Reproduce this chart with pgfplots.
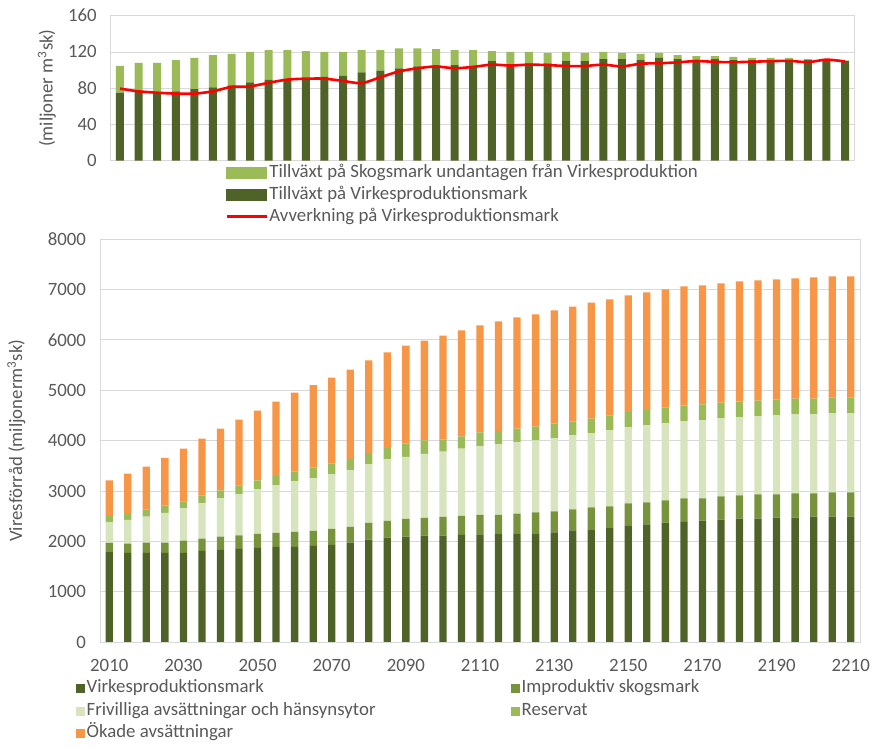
\documentclass[border=0pt]{standalone}
\usepackage{fontspec}
\setmainfont{Carlito}
\usepackage{pgfplots}
\usepackage{pgfplotstable}
\pgfplotsset{compat=1.18}
\definecolor{dkgreen}{HTML}{4F6228}
\definecolor{ltgreen}{HTML}{9BBB59}
\definecolor{midgreen}{HTML}{77933C}
\definecolor{palegreen}{HTML}{D7E4BD}
\definecolor{resgreen}{HTML}{9BBB59}
\definecolor{orng}{HTML}{F79646}
\definecolor{gridgray}{HTML}{D9D9D9}
\definecolor{txt}{HTML}{595959}
\newcommand{\fs}{\fontsize{18.8}{22}\selectfont}

\pgfplotstableread{
i D L R
0 75 29.5 79.5
1 76.5 31.5 76.5
2 75 33 75
3 76.5 34.5 74
4 79 34.5 74
5 81 35.5 76.5
6 83 35 81.5
7 86.5 33.5 82
8 89.5 32.5 86
9 89 33 89.5
10 90 31 90.5
11 92.5 27.5 90.5
12 94 26 88
13 97.5 24.5 85.5
14 99.5 22.5 92
15 102 22 98.5
16 104 20 102
17 103.5 19.5 104
18 105.5 16.5 102
19 105 17 103.5
20 110 11 106
21 106.5 13.5 105
22 107.5 12.5 106
23 107.5 11.5 105.5
24 110 10 104.5
25 110 9 104.5
26 112 8 106
27 112 7 104
28 111 7 107
29 113.5 5.5 107.5
30 112 4.5 108.5
31 110.5 5 110
32 112 3.5 109
33 111 3.5 108.7
34 111 2.5 109.2
35 111 2.5 109.8
36 111 2.5 110.2
37 111 1 108.7
38 111 0.2 111.5
39 110.5 0 109.5
}\topdata

\pgfplotstableread{
i V I F R O
0 1790 180 420 120 700
1 1775 180 475 115 800
2 1775 200 520 135 855
3 1775 200 590 145 950
4 1775 240 640 135 1050
5 1815 240 700 160 1125
6 1835 260 760 160 1225
7 1855 265 815 180 1300
8 1875 275 885 175 1385
9 1895 275 945 185 1475
10 1895 295 1000 195 1570
11 1915 295 1040 220 1630
12 1935 315 1080 215 1705
13 1975 315 1120 230 1770
14 2035 335 1160 225 1835
15 2075 335 1220 225 1895
16 2095 355 1230 260 1945
17 2115 355 1270 265 1980
18 2115 375 1290 245 2060
19 2130 380 1330 245 2100
20 2140 390 1355 280 2120
21 2160 370 1395 265 2175
22 2160 390 1415 275 2205
23 2160 415 1430 275 2225
24 2180 415 1450 295 2245
25 2220 415 1470 270 2285
26 2240 435 1470 290 2305
27 2280 415 1510 290 2305
28 2320 435 1510 300 2315
29 2340 435 1530 300 2335
30 2375 440 1530 315 2340
31 2390 465 1530 315 2360
32 2415 440 1550 315 2360
33 2435 460 1550 310 2365
34 2455 460 1550 310 2385
35 2455 480 1550 310 2385
36 2475 460 1570 310 2385
37 2475 480 1570 310 2385
38 2495 460 1570 310 2405
39 2495 480 1570 310 2405
40 2495 480 1570 310 2405
}\botdata

\pgfplotsset{
  base/.style={
    scale only axis,
    axis line style={draw=gridgray, line width=0.8pt},
    ymajorgrids,
    grid style={draw=gridgray, line width=0.8pt},
    major tick length=0pt,
    tick style={draw=none},
    ticklabel style={font=\fs, text=txt},
    /pgf/number format/assume math mode=true,
    /pgf/number format/1000 sep={},
    label style={font=\fs, text=txt},
    yticklabel style={anchor=east, xshift=-10.5pt},
  },
  sq/.style={legend image code/.code={\fill[##1, draw=none] (0pt,-4.5pt) rectangle (9pt,4.5pt);}},
}

\begin{document}
\begin{tikzpicture}
% ---------- top chart: bars ----------
\begin{axis}[base,
  width=743.6pt, height=145pt,
  at={(110.7pt,588.3pt)}, anchor=south west,
  ybar stacked, bar width=8pt,
  xmin=-0.5, xmax=39.5, xtick=\empty,
  ymin=0, ymax=160, ytick={0,40,80,120,160},
  ylabel={(miljoner m\textsuperscript{3}sk)},
  every axis y label/.style={at={(axis description cs:-0.086,0.5)}, rotate=90, anchor=center, font=\fs, text=txt},
]
\addplot[fill=dkgreen, draw=none] table[x=i, y=D] {\topdata};
\addplot[fill=ltgreen, draw=none] table[x=i, y=L] {\topdata};
\end{axis}
% ---------- top chart: line + legend ----------
\begin{axis}[
  scale only axis,
  width=743.6pt, height=145pt,
  at={(110.7pt,588.3pt)}, anchor=south west,
  xmin=-0.5, xmax=39.5, ymin=0, ymax=160,
  hide axis,
  legend cell align=left,
  legend style={at={(0.1539,-0.012)}, anchor=north west, draw=none, fill=none,
    font=\fs, text=txt, row sep=2pt, inner sep=0pt,
    nodes={inner sep=1.5pt, text height=13pt, text depth=4pt}},
]
\addlegendimage{legend image code/.code={\fill[ltgreen] (-3pt,-5.3pt) rectangle (37pt,5.3pt);}}
\addlegendentry{Tillväxt på Skogsmark undantagen från Virkesproduktion}
\addlegendimage{legend image code/.code={\fill[dkgreen] (-3pt,-5.3pt) rectangle (37pt,5.3pt);}}
\addlegendentry{Tillväxt på Virkesproduktionsmark}
\addplot[red, line width=2.6pt, smooth, tension=0.4,
  legend image code/.code={\draw[red, line width=2.6pt] (-3pt,0pt) -- (37pt,0pt);}]
  table[x=i, y=R] {\topdata};
\addlegendentry{Avverkning på Virkesproduktionsmark}
\end{axis}
% ---------- bottom chart ----------
\begin{axis}[base,
  width=760pt, height=403.3pt,
  at={(100pt,106.7pt)}, anchor=south west,
  axis x line*=bottom, axis y line*=left,
  ybar stacked, bar width=7.3pt,
  xmin=-0.5, xmax=40.5,
  xtick={0,4,...,40},
  xticklabels={2010,2030,2050,2070,2090,2110,2130,2150,2170,2190,2210},
  xticklabel style={anchor=north, inner sep=0pt, yshift=-17pt},
  ymin=0, ymax=8000, ytick={0,1000,...,8000},
  ylabel={Viresförråd (miljonerm\textsuperscript{3}sk)},
  every axis y label/.style={at={(axis description cs:-0.110,0.5)}, rotate=90, anchor=center, font=\fs, text=txt},
  legend columns=2,
  legend cell align=left,
  legend style={at={(-0.0316,-0.0905)}, anchor=north west, draw=none, fill=none,
    font=\fs, text=txt, row sep=3pt, inner sep=0pt,
    nodes={inner sep=1.5pt, text height=12.5pt, text depth=4pt},
    /tikz/every even column/.append style={column sep=134pt}},
]
\addplot[sq, fill=dkgreen, draw=none] table[x=i, y=V] {\botdata};
\addlegendentry{Virkesproduktionsmark}
\addplot[sq, fill=midgreen, draw=none] table[x=i, y=I] {\botdata};
\addlegendentry{Improduktiv skogsmark}
\addplot[sq, fill=palegreen, draw=none] table[x=i, y=F] {\botdata};
\addlegendentry{Frivilliga avsättningar och hänsynsytor}
\addplot[sq, fill=resgreen, draw=none] table[x=i, y=R] {\botdata};
\addlegendentry{Reservat}
\addplot[sq, fill=orng, draw=none] table[x=i, y=O] {\botdata};
\addlegendentry{Ökade avsättningar}
\end{axis}
% full box for bottom chart
\draw[gridgray, line width=0.8pt] (100pt,106.7pt) rectangle (860pt,510pt);
\pgfresetboundingbox
\path (0pt,0pt) rectangle (886pt,749pt);
\end{tikzpicture}
\end{document}
